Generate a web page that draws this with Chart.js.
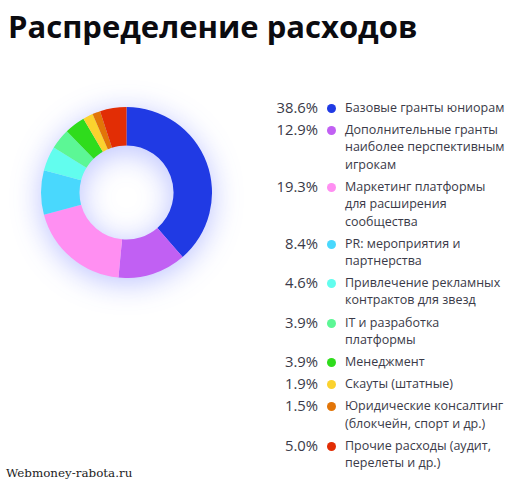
<!DOCTYPE html>
<html lang="ru"><head><meta charset="utf-8">
<script src="https://cdn.jsdelivr.net/npm/chart.js@4"></script>
<style>
html,body{margin:0;padding:0;background:#fff;width:520px;height:485px;overflow:hidden}
body{position:relative;font-family:"Open Sans",sans-serif}
#title{position:absolute;left:8px;top:4px;margin:0;font:700 31px/44px "Open Sans",sans-serif;color:#0b0b10;white-space:nowrap}
#wrap{position:absolute;left:41px;top:107px;width:171px;height:171px;filter:drop-shadow(0 5px 15px rgba(50,70,255,.33))}
#legend{position:absolute;left:260px;top:99px;width:260px}
.row{position:relative;margin-bottom:4.88px;padding-left:85px;font-size:12.5px;line-height:17.3px;color:#3a3a48;white-space:pre}
.pct{position:absolute;left:0;width:58px;top:0;text-align:right;font-size:14.8px;color:#3a3a48}
.dot{position:absolute;left:67px;top:5px;width:9px;height:9px;border-radius:50%}
#foot{position:absolute;left:6px;top:466px;font:11.9px/15px "DejaVu Serif",serif;color:#222}
</style></head><body>
<h1 id="title">Распределение расходов</h1>
<div id="wrap"><canvas id="c" width="171" height="171"></canvas></div>
<div id="legend"></div>
<div id="foot">Webmoney-rabota.ru</div>
<script>
const categories=["Базовые гранты юниорам","Дополнительные гранты\nнаиболее перспективным\nигрокам","Маркетинг платформы\nдля расширения\nсообщества","PR: мероприятия и\nпартнерства","Привлечение рекламных\nконтрактов для звезд","IT и разработка\nплатформы","Менеджмент","Скауты (штатные)","Юридические консалтинг\n(блокчейн, спорт и др.)","Прочие расходы (аудит,\nперелеты и др.)"];
const values=[38.6,12.9,19.3,8.4,4.6,3.9,3.9,1.9,1.5,5.0];
const colors=["#203ae4","#c160f3","#ff8ff2","#49d8fd","#62fdee","#5cf795","#2fdc1c","#fbd22e","#e27508","#e22d05"];
const legend=document.getElementById('legend');
categories.forEach((cat,i)=>{
  const r=document.createElement('div');r.className='row';r.textContent=cat;
  const p=document.createElement('span');p.className='pct';p.textContent=values[i].toFixed(1)+'%';
  const d=document.createElement('span');d.className='dot';d.style.background=colors[i];
  r.append(p,d);legend.append(r);
});
new Chart(document.getElementById('c'),{
  type:'doughnut',
  data:{labels:categories,datasets:[{data:values,backgroundColor:colors,borderWidth:0}]},
  options:{responsive:false,animation:false,cutout:'55%',layout:{padding:0},plugins:{legend:{display:false},tooltip:{enabled:false}}}
});
</script></body></html>
